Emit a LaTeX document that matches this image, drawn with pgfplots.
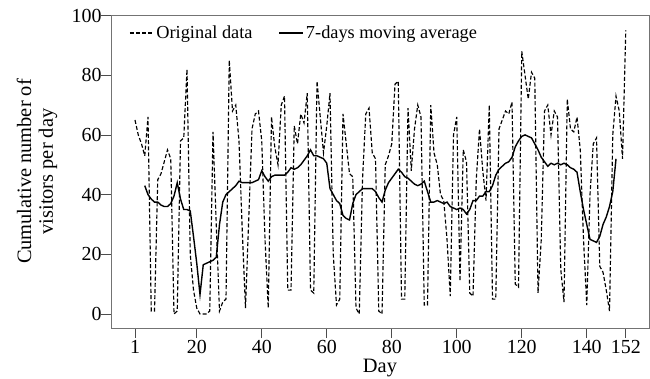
\documentclass[border=0pt]{standalone}
\usepackage{fontspec}
\setmainfont{Liberation Serif}
\usepackage{pgfplots}
\pgfplotsset{compat=1.18}
\usepackage{pgfplotstable}

\pgfplotstableread{
day val
1 65
2 60
3 57
4 53
5 66
6 1
7 1
8 45
9 47
10 51
11 55
12 52
13 0
14 1
15 58
16 59
17 82
18 20
19 8
20 2
21 0
22 0
23 0
24 1
25 61
26 30
27 1
28 4
29 5
30 85
31 68
32 70
33 58
34 28
35 2
36 32
37 62
38 67
39 68
40 58
41 25
42 2
43 66
44 56
45 50
46 70
47 73
48 8
49 8
50 63
51 57
52 67
53 64
54 74
55 8
56 7
57 78
58 66
59 54
60 63
61 74
62 20
63 3
64 5
65 67
66 57
67 47
68 46
69 2
70 0
71 45
72 67
73 69
74 54
75 52
76 1
77 0
78 50
79 53
80 57
81 77
82 78
83 5
84 5
85 69
86 48
87 62
88 70
89 66
90 3
91 3
92 70
93 54
94 50
95 40
96 38
97 25
98 6
99 60
100 66
101 11
102 55
103 51
104 7
105 6
106 45
107 62
108 48
109 38
110 70
111 5
112 5
113 62
114 65
115 68
116 67
117 71
118 10
119 9
120 88
121 80
122 72
123 81
124 79
125 7
126 25
127 68
128 70
129 60
130 68
131 66
132 15
133 4
134 72
135 62
136 61
137 66
138 55
139 25
140 3
141 40
142 57
143 59
144 16
145 14
146 8
147 1
148 60
149 73
150 68
151 52
152 95
}\orig

\pgfplotstableread{
day ma
4 43
5 40
6 38.5
7 37.5
8 37.5
9 36.5
10 36
11 36
12 37
13 39.5
14 44
15 38.5
16 35
17 35
18 34.5
19 26
20 17
21 6.5
22 16.5
23 17
24 17.5
25 18
26 19
27 30
28 37.5
29 40
30 41
31 42
32 43
33 44.5
34 44
35 44
36 44
37 44
38 44.5
39 45
40 48
41 46
42 44.5
43 46
44 46.5
45 46.5
46 46.5
47 46.5
48 47.5
49 49
50 48.5
51 49
52 50
53 51.5
54 53
55 55
56 53
57 53
58 52.5
59 52
60 50.5
61 42
62 40
63 38
64 37
65 33
66 32
67 31.5
68 37
69 40
70 41
71 42
72 42
73 42
74 42
75 41
76 39
77 37.5
78 41.5
79 44
80 45.5
81 47
82 48.5
83 47.5
84 46
85 45.5
86 44.5
87 43.5
88 43
89 43.5
90 44.5
91 41
92 37.5
93 37.5
94 38
95 37.5
96 37
97 37.5
98 36
99 35.5
100 35
101 35.5
102 35
103 33.5
104 35
105 38
106 38
107 39.5
108 39.5
109 41
110 41
111 43
112 46.5
113 48.5
114 49.5
115 50.5
116 51
117 52.5
118 56
119 58
120 59.5
121 60
122 59.5
123 59
124 57
125 55
126 52.5
127 51
128 49.5
129 50.5
130 50
131 50.5
132 50
133 50.5
134 50
135 49
136 48.5
137 47.5
138 41
139 35
140 30
141 25
142 24.5
143 24
144 26
145 30
146 32.5
147 36
148 41
149 52
}\mavg

\begin{document}
\begin{tikzpicture}
\path[use as bounding box] (0,0) rectangle (650bp,379bp);
\begin{axis}[
  at={(111bp,51bp)}, anchor=south west,
  scale only axis, width=538bp, height=313bp,
  xmin=-6.385, xmax=159.15, ymin=-4.69, ymax=100.17,
  xtick={1,20,40,60,80,100,120,140,152},
  ytick={0,20,40,60,80,100},
  tick align=outside, xtick pos=bottom, ytick pos=left,
  major tick length=10bp,
  axis line style={black!55, line width=0.8bp},
  every tick/.style={black!70, line width=0.8bp},
  tick label style={font=\fontsize{20}{22}\selectfont},
  yticklabel style={xshift=4bp},
  xticklabel style={yshift=1bp},
  /pgf/number format/assume math mode=true,
  xlabel={Day},
  ylabel={Cumulative number of\\visitors per day},
  label style={font=\fontsize{20.5}{22}\selectfont},
  ylabel style={at={(rel axis cs:-0.1375,0.5)}, anchor=center, align=center},
  xlabel style={at={(rel axis cs:0.5,0)}, anchor=north, yshift=-28bp},
  legend style={at={(rel axis cs:0.028,0.9425)}, anchor=west, draw=none, fill=none,
    font=\fontsize{18.4}{20}\selectfont, legend columns=2,
    /tikz/every even column/.append style={column sep=24bp}},
  legend image code/.code={\draw[#1] (0bp,0bp) -- (24bp,0bp);},
]
\addplot[black, line width=1.15bp, dash pattern=on 4bp off 2.2bp] table[x=day,y=val]{\orig};
\addlegendentry{Original data}
\addplot[black, line width=1.4bp] table[x=day,y=ma]{\mavg};
\addlegendentry{7-days moving average}
\end{axis}
\end{tikzpicture}
\end{document}
